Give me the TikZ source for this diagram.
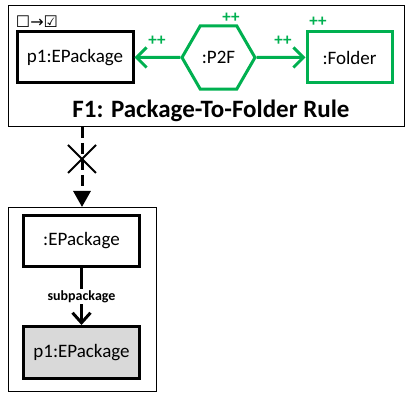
\documentclass[tikz,border=0pt]{standalone}
\usepackage{fontspec}
\setmainfont{Carlito}
\newfontfamily\symfont{DejaVu Sans}
\usetikzlibrary{positioning,arrows.meta,shapes.geometric,shapes.misc}
\definecolor{create}{RGB}{0,176,80}
\definecolor{ctx}{RGB}{217,217,217}
\begin{document}
\begin{tikzpicture}[x=1pt,y=-1pt,
  obj/.style={draw=black,line width=3pt,fill=white,minimum width=116pt,minimum height=51pt,
     inner sep=0pt,font=\fontsize{19}{22}\selectfont},
  newobj/.style={obj,draw=create},
  plus/.style={text=create,font=\bfseries\fontsize{17}{17}\selectfont,inner sep=0pt},
  frame/.style={draw=black,line width=1pt,inner sep=0pt},
  link/.style={line width=3pt,-{Straight Barb[length=10pt,width=20pt]}}]
\useasboundingbox (0,0) rectangle (408,393);
% rule F1
\node[frame,minimum width=396pt,minimum height=121pt] (rule) at (206,66) {};
\node[font=\bfseries\fontsize{25}{28}\selectfont,inner sep=0pt] (title) at (211,111) {F1: Package-To-Folder Rule};
\node[font=\symfont\fontsize{16}{17}\selectfont,inner sep=0pt] (mark) at (37,22) {☐→☑};
\node[obj] (pkg) at (75,57.5) {p1:EPackage};
\node[regular polygon,regular polygon sides=6,draw=create,line width=3pt,
  minimum size=73pt,inner sep=0pt,font=\fontsize{19}{22}\selectfont] (p2f) at (218.5,57.5) {:P2F};
\node[newobj,minimum width=85pt] (folder) at (349.5,57.5) {:Folder};
\draw[link,create] (p2f.west) -- (pkg.east);
\draw[link,create] (p2f.east) -- (folder.west);
\node[plus] (plusl) at (157,41) {++};
\node[plus] (plusr) at (283,41) {++};
\node[plus] (plush) at (231,18) {++};
\node[plus] (plusf) at (318,22) {++};
% application condition
\node[frame,minimum width=148pt,minimum height=184pt] (cond) at (82,299.5) {};
\node[obj] (parent) at (81.5,241) {:EPackage};
\node[obj,fill=ctx,minimum height=52pt] (child) at (81.5,352.5) {p1:EPackage};
\draw[link,-{Straight Barb[length=10pt,width=18pt]}] (parent) --
  node[fill=white,inner sep=1pt,font=\bfseries\fontsize{14}{15}\selectfont] (sub) {subpackage} (child);
\draw[line width=3pt,dash pattern=on 11pt off 5pt,-{Triangle[length=16pt,width=17pt]}]
  (rule.south -| cond.north) -- (cond.north)
  node[pos=0.4,cross out,draw,solid,line width=2pt,minimum size=26pt] (no) {};
\end{tikzpicture}
\end{document}
